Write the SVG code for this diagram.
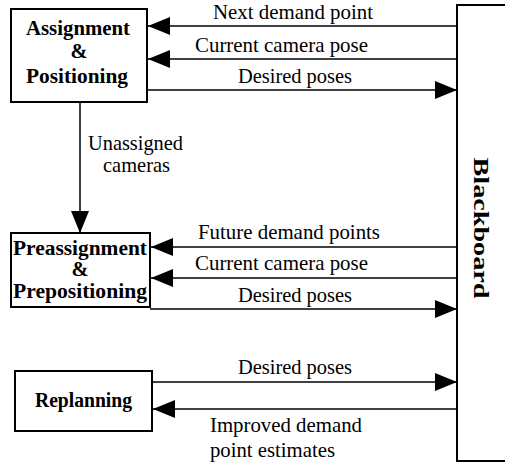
<svg xmlns="http://www.w3.org/2000/svg" width="505" height="463" viewBox="0 0 505 463">
<style>
  .box { fill: #fff; stroke: #000; stroke-width: 2; }
  .lbl { font-family: "Liberation Serif", "Times New Roman", serif; font-size: 20.4px; fill: #000; }
  .blbl { font-family: "Liberation Serif", "Times New Roman", serif; font-size: 20.5px; font-weight: bold; fill: #000; }
  .conn { stroke: #000; stroke-width: 1.5; fill: none; marker-end: url(#ah); }
</style>
<defs>
  <marker id="ah" markerWidth="22" markerHeight="18" refX="22" refY="9" orient="auto" markerUnits="userSpaceOnUse">
    <path d="M0,0 L22,9 L0,18 z" fill="#000"/>
  </marker>
</defs>
<rect width="505" height="463" fill="#fff"/>

<g id="blackboard">
  <rect class="box" x="457" y="5" width="60" height="456"/>
  <text class="blbl" text-anchor="middle" font-size="28" transform="translate(474,228) rotate(90)" textLength="141" lengthAdjust="spacingAndGlyphs">Blackboard</text>
</g>

<g id="assignment">
  <rect class="box" x="11" y="9" width="136" height="93"/>
  <text class="blbl" x="78" y="35" text-anchor="middle" textLength="104" lengthAdjust="spacingAndGlyphs">Assignment</text>
  <text class="blbl" x="79" y="58" text-anchor="middle">&amp;</text>
  <text class="blbl" x="77" y="83" text-anchor="middle" textLength="102" lengthAdjust="spacingAndGlyphs">Positioning</text>
</g>

<g id="preassignment">
  <rect class="box" x="11" y="233" width="139" height="74"/>
  <text class="blbl" x="80" y="255" text-anchor="middle" textLength="134" lengthAdjust="spacingAndGlyphs">Preassignment</text>
  <text class="blbl" x="80" y="276" text-anchor="middle">&amp;</text>
  <text class="blbl" x="80" y="298" text-anchor="middle" textLength="134" lengthAdjust="spacingAndGlyphs">Prepositioning</text>
</g>

<g id="replanning">
  <rect class="box" x="15" y="371" width="137" height="60"/>
  <text class="blbl" x="83.5" y="407" text-anchor="middle" textLength="97" lengthAdjust="spacingAndGlyphs">Replanning</text>
</g>

<g id="connectors">
  <line class="conn" x1="457" y1="26" x2="148" y2="26"/>
  <line class="conn" x1="457" y1="59" x2="148" y2="59"/>
  <line class="conn" x1="147" y1="90" x2="457" y2="90"/>
  <line class="conn" x1="80" y1="102" x2="80" y2="233"/>
  <line class="conn" x1="457" y1="247" x2="151" y2="247"/>
  <line class="conn" x1="457" y1="278" x2="151" y2="278"/>
  <line class="conn" x1="150" y1="309" x2="457" y2="309"/>
  <line class="conn" x1="152" y1="382" x2="457" y2="382"/>
  <line class="conn" x1="457" y1="409" x2="153" y2="409"/>
</g>

<g id="labels">
  <text class="lbl" x="293" y="19" text-anchor="middle" textLength="160" lengthAdjust="spacingAndGlyphs">Next demand point</text>
  <text class="lbl" x="281.5" y="52" text-anchor="middle" textLength="173" lengthAdjust="spacingAndGlyphs">Current camera pose</text>
  <text class="lbl" x="295" y="83" text-anchor="middle" textLength="114" lengthAdjust="spacingAndGlyphs">Desired poses</text>
  <text class="lbl" x="135.5" y="150" text-anchor="middle" textLength="95" lengthAdjust="spacingAndGlyphs">Unassigned</text>
  <text class="lbl" x="136.5" y="172" text-anchor="middle" textLength="67" lengthAdjust="spacingAndGlyphs">cameras</text>
  <text class="lbl" x="289" y="239" text-anchor="middle" textLength="182" lengthAdjust="spacingAndGlyphs">Future demand points</text>
  <text class="lbl" x="281.5" y="270" text-anchor="middle" textLength="173" lengthAdjust="spacingAndGlyphs">Current camera pose</text>
  <text class="lbl" x="295" y="302" text-anchor="middle" textLength="114" lengthAdjust="spacingAndGlyphs">Desired poses</text>
  <text class="lbl" x="295" y="374" text-anchor="middle" textLength="114" lengthAdjust="spacingAndGlyphs">Desired poses</text>
  <text class="lbl" x="210" y="432" textLength="152" lengthAdjust="spacingAndGlyphs">Improved demand</text>
  <text class="lbl" x="210" y="457" textLength="125" lengthAdjust="spacingAndGlyphs">point estimates</text>
</g>
</svg>
